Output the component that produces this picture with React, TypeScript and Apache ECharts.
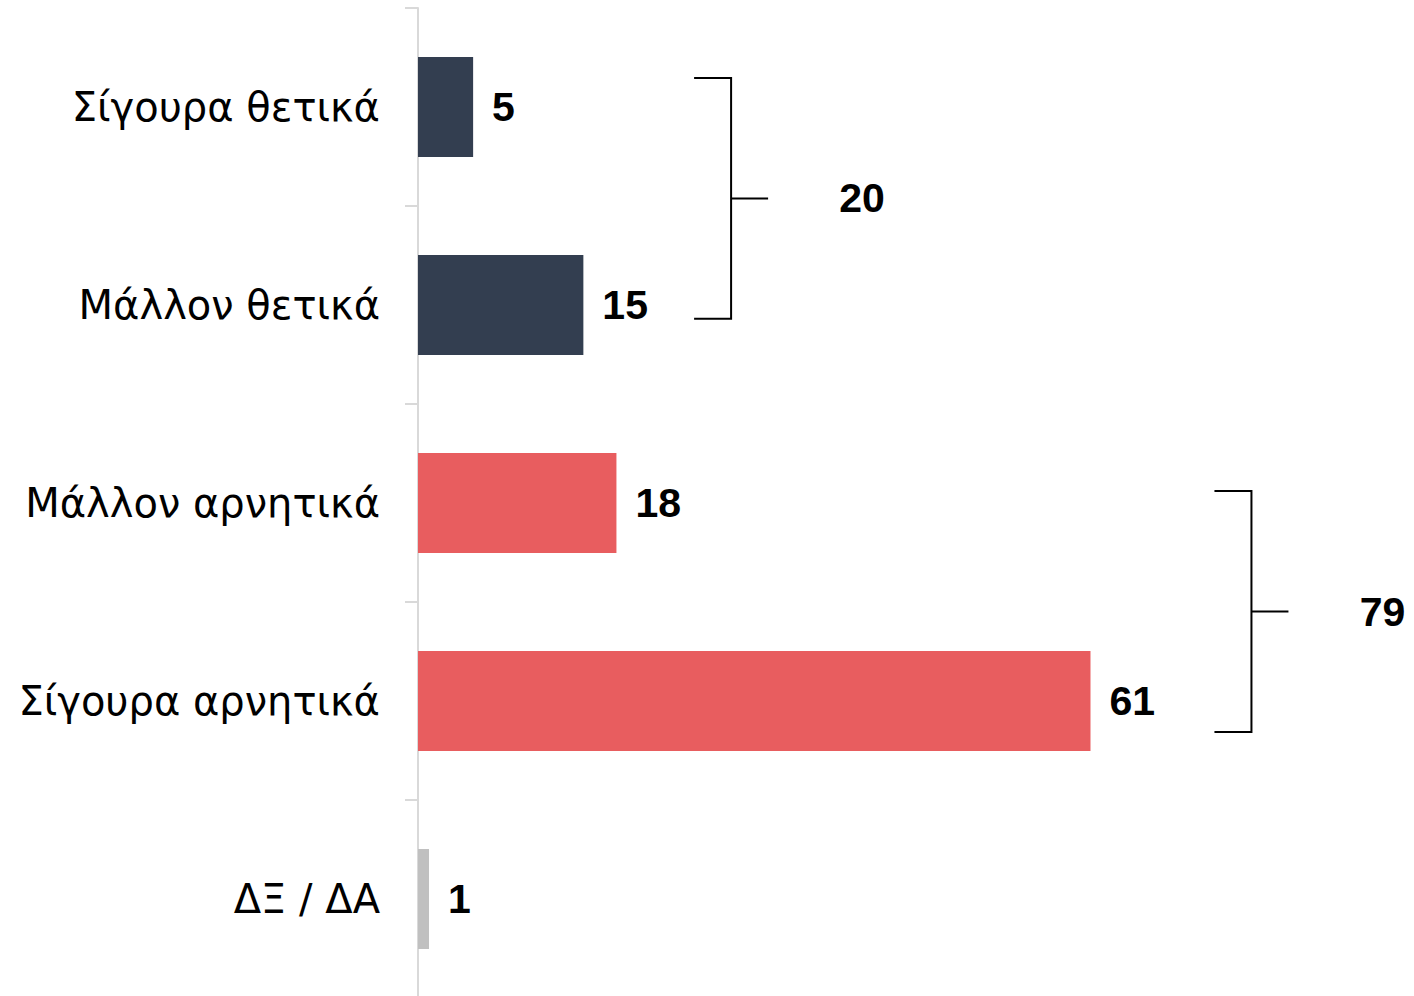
import React, { useEffect, useRef } from "react";
import * as echarts from "echarts";

const categories = ["Σίγουρα θετικά", "Μάλλον θετικά", "Μάλλον αρνητικά", "Σίγουρα αρνητικά", "ΔΞ / ΔΑ"];
const values = [5, 15, 18, 61, 1];
const barColors = ["#333e50", "#333e50", "#e85d5f", "#e85d5f", "#c0c0c0"];

// Bracket groups: first category index, last category index, total, x position (in value units)
const groupStart = [0, 2];
const groupEnd = [1, 3];
const groupTotals = [20, 79];
const groupX = [28.4, 75.6];

// bracket geometry (fractions of the category band)
const bracketTopOffset = [-0.146, -0.06];
const bracketBottomOffset = [0.07, 0.157];

const FONT = "'DejaVu Sans', sans-serif";
const BOLD_FONT = "'Liberation Sans', Arial, sans-serif";

export default function App() {
  const ref = useRef<HTMLDivElement>(null);
  useEffect(() => {
    if (!ref.current) return;
    const chart = echarts.init(ref.current, null, { renderer: "svg" });
    const bracketData = groupTotals.map((t, i) => [groupX[i], groupStart[i], groupEnd[i], t]);
    chart.setOption({
      animation: false,
      grid: { left: 418, top: 8, width: 990, height: 990, containLabel: false },
      xAxis: { type: "value", min: 0, max: 89.8, show: false },
      yAxis: {
        type: "category",
        data: categories,
        inverse: true,
        axisLine: { show: true, lineStyle: { color: "#d9d9d9", width: 2 } },
        axisTick: { show: true, length: 13, lineStyle: { color: "#d9d9d9", width: 2 } },
        axisLabel: { margin: 38, color: "#000", fontSize: 40, fontFamily: FONT },
        splitLine: { show: false },
      },
      series: [
        {
          type: "bar",
          data: values.map((v, i) => ({ value: v, itemStyle: { color: barColors[i] } })),
          barWidth: 100,
          label: {
            show: true,
            position: "right",
            distance: 19,
            color: "#000",
            fontWeight: "bold",
            fontSize: 41,
            fontFamily: BOLD_FONT,
          },
        },
        {
          type: "custom",
          clip: false,
          encode: { x: 0, y: 1 },
          data: bracketData,
          renderItem: (params: any, api: any) => {
            const i = params.dataIndex;
            const xv = api.value(0);
            const s = api.value(1);
            const e = api.value(2);
            const band = api.size([0, 1])[1];
            const p1 = api.coord([xv, s]);
            const p2 = api.coord([xv, e]);
            const x = p1[0];
            const top = p1[1] + bracketTopOffset[i] * band;
            const bottom = p2[1] + bracketBottomOffset[i] * band;
            const mid = (top + bottom) / 2;
            const style = { stroke: "#000", lineWidth: 2, fill: "none" };
            return {
              type: "group",
              children: [
                {
                  type: "polyline",
                  shape: { points: [[x - 37, top], [x, top], [x, bottom], [x - 37, bottom]] },
                  style,
                },
                { type: "line", shape: { x1: x, y1: mid, x2: x + 37, y2: mid }, style },
                {
                  type: "text",
                  x: x + 131,
                  y: mid,
                  style: {
                    text: String(api.value(3)),
                    align: "center",
                    verticalAlign: "middle",
                    fontSize: 41,
                    fontWeight: "bold",
                    fontFamily: BOLD_FONT,
                    fill: "#000",
                  },
                },
              ],
            };
          },
        },
      ],
    });
    return () => chart.dispose();
  }, []);
  return <div ref={ref} style={{ position: "absolute", left: 0, top: 0, width: 1414, height: 1000 }} />;
}
